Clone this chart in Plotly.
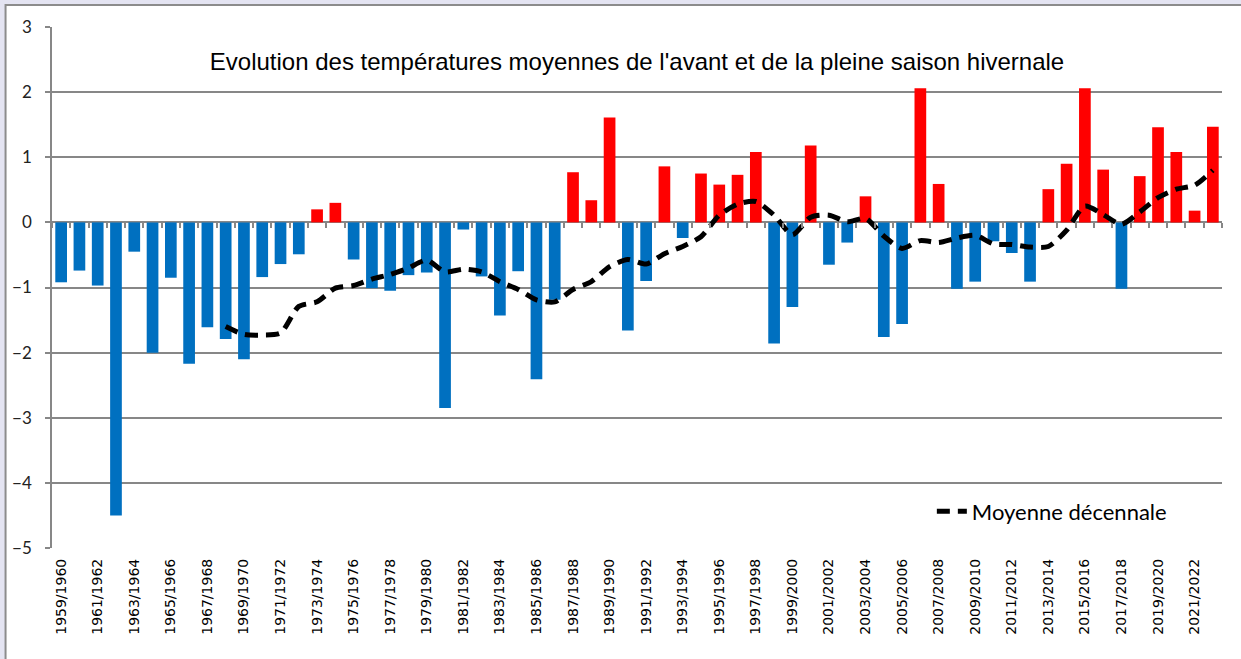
import plotly.graph_objects as go

# Saisons hivernales 1959/1960 -> 2022/2023
saisons = [f"{a}/{a + 1}" for a in range(1959, 2023)]

# Ecart de temperature moyenne (degres C) par saison
ecarts = [-0.92, -0.74, -0.97, -4.50, -0.45, -2.00, -0.85, -2.17, -1.61, -1.79,
          -2.10, -0.84, -0.64, -0.49, 0.20, 0.30, -0.57, -1.01, -1.05, -0.81,
          -0.77, -2.85, -0.11, -0.83, -1.43, -0.75, -2.41, -1.19, 0.77, 0.34,
          1.61, -1.66, -0.90, 0.86, -0.24, 0.75, 0.58, 0.73, 1.08, -1.86,
          -1.30, 1.18, -0.65, -0.31, 0.40, -1.76, -1.56, 2.06, 0.59, -1.02,
          -0.91, -0.29, -0.47, -0.91, 0.51, 0.90, 2.06, 0.81, -1.02, 0.71,
          1.46, 1.08, 0.18, 1.47]

# Moyenne decennale (courbe pointillee), a partir de 1968/1969
moyenne_decennale = [None] * 9 + [
    -1.60, -1.72, -1.73, -1.70, -1.29, -1.22, -1.01, -0.97, -0.87, -0.80,
    -0.70, -0.58, -0.76, -0.72, -0.76, -0.91, -1.03, -1.19, -1.22, -1.03,
    -0.91, -0.68, -0.57, -0.64, -0.48, -0.37, -0.22, 0.11, 0.28, 0.32,
    0.11, -0.19, 0.08, 0.11, 0.01, 0.06, -0.21, -0.40, -0.28, -0.31,
    -0.24, -0.20, -0.33, -0.34, -0.38, -0.37, -0.12, 0.25, 0.12, -0.03,
    0.16, 0.38, 0.51, 0.57, 0.80]

BLEU = "#0070C0"
ROUGE = "#FF0000"
GRIS = "#878787"

couleurs = [ROUGE if v > 0 else BLEU for v in ecarts]

fig = go.Figure()

fig.add_trace(go.Bar(
    x=saisons, y=ecarts,
    marker=dict(color=couleurs, line=dict(width=0)),
    showlegend=False, hoverinfo="x+y",
))

fig.add_trace(go.Scatter(
    x=saisons, y=moyenne_decennale, xaxis="x2",
    mode="lines", name="Moyenne décennale",
    line=dict(color="black", width=5, dash="13px,8px", shape="spline", smoothing=0.7),
    connectgaps=False,
))

# cadre facon Excel
fig.add_shape(type="rect", xref="paper", yref="paper", layer="below",
              x0=-0.0397, x1=1.03, y0=-0.25, y1=1.042,
              fillcolor="white", line=dict(color="#8C8C8C", width=2))

fig.update_layout(
    width=1241, height=659,
    margin=dict(l=52, r=19, t=27, b=111),
    paper_bgcolor="#E4E4F2",
    plot_bgcolor="white",
    bargap=0.36,
    title=dict(
        text="Evolution des températures moyennes de l'avant et de la pleine saison hivernale",
        x=0.5, xref="paper", xanchor="center",
        y=1 - 62 / 659, yref="container", yanchor="middle",
        font=dict(family="Liberation Sans, Arial", size=24, color="black"),
    ),
    legend=dict(
        x=0.752, y=0.07, xanchor="left", yanchor="middle",
        bgcolor="rgba(0,0,0,0)",
        font=dict(family="Lato", size=22, color="black"),
    ),
    xaxis=dict(
        type="category", range=[-0.5, 63.5], automargin=False,
        tickmode="array", tickvals=saisons[::2], ticktext=saisons[::2],
        tickangle=-90, ticks="", showgrid=False, showline=False, zeroline=False,
        tickfont=dict(family="DejaVu Sans", size=14, color="black"),
        ticklabelstandoff=7,
    ),
    xaxis2=dict(
        type="category", range=[-0.5, 63.5], overlaying="x",
        anchor="free", position=5 / 8,
        tickmode="linear", tick0=0, dtick=1, tickson="boundaries",
        ticks="outside", ticklen=5, tickwidth=1.5, tickcolor=GRIS,
        showticklabels=False, showgrid=False, showline=False, zeroline=False,
    ),
    yaxis=dict(
        range=[-5, 3], dtick=1, tick0=0, automargin=False,
        showgrid=True, gridcolor=GRIS, gridwidth=1.5,
        zeroline=False,
        showline=True, linecolor=GRIS, linewidth=1.5,
        ticks="outside", ticklen=5, tickwidth=1.5, tickcolor=GRIS,
        tickfont=dict(family="Lato", size=17, color="#222222"),
        ticklabelstandoff=10,
    ),
)

# pas de marge autour du graphique dans la page
fig.write_html("out.html", config={"displayModeBar": False},
               post_script="document.body.style.margin = '0';")
